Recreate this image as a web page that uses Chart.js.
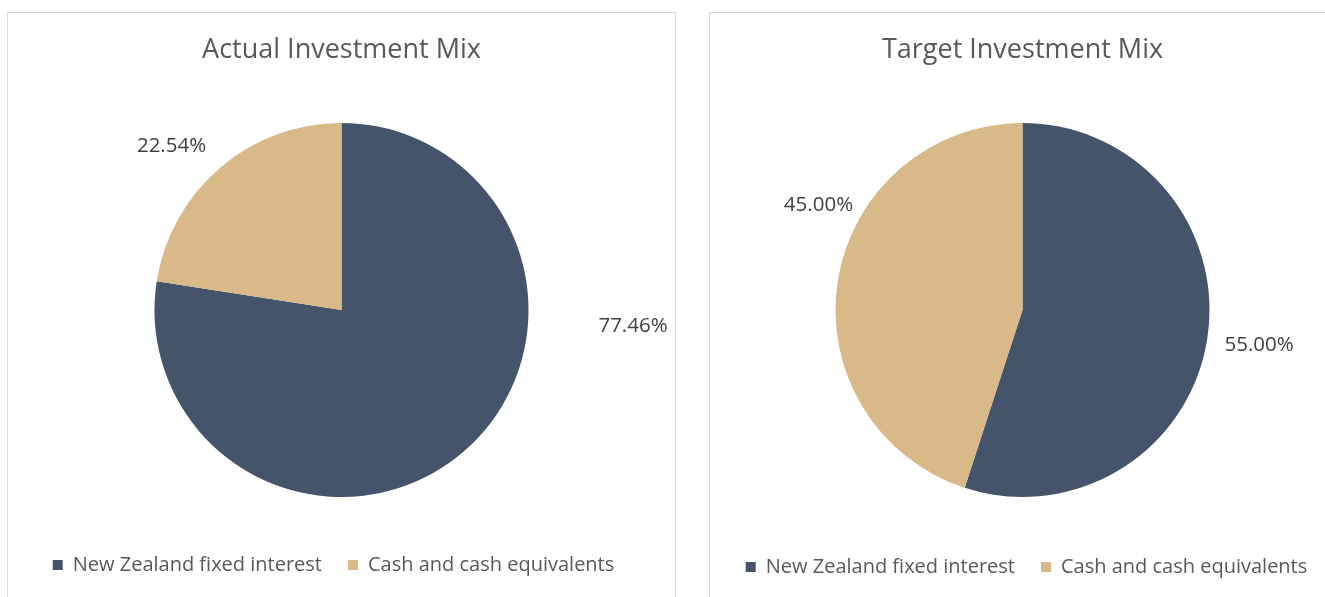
<!DOCTYPE html>
<html>
<head>
<meta charset="utf-8">
<script src="https://cdn.jsdelivr.net/npm/chart.js@4/dist/chart.umd.min.js"></script>
<style>
  body { margin: 0; background: #fff; width: 1325px; height: 597px; overflow: hidden; position: relative; }
  .panel { position: absolute; top: 12px; border: 1px solid #D9D9D9; background: #fff; }
  #panelActual { left: 7px; width: 667px; height: 600px; }
  #panelTarget { left: 709px; width: 640px; height: 600px; }
  canvas { display: block; }
</style>
</head>
<body>
<div class="panel" id="panelActual"><canvas id="chart_actual" width="667" height="584"></canvas></div>
<div class="panel" id="panelTarget"><canvas id="chart_target" width="625" height="584"></canvas></div>
<script>
const categories = ['New Zealand fixed interest', 'Cash and cash equivalents'];
const actualValues = [77.46, 22.54];
const targetValues = [55.00, 45.00];
const sliceColors = ['#44546A', '#D8B987'];

Chart.defaults.font.family = "'Open Sans', sans-serif";

// draws the percentage labels outside each slice, offset in units of the pie radius
const pieLabels = {
    id: 'pieLabels',
    afterLayout(chart, args, opts) {
        // nudge the legend sideways, like the original
        chart.legend.left += opts.legendShift;
        chart.legend.right += opts.legendShift;
    },
    afterDatasetsDraw(chart, args, opts) {
        const ctx = chart.ctx;
        const meta = chart.getDatasetMeta(0);
        const data = chart.data.datasets[0].data;
        ctx.save();
        ctx.font = "20.5px 'Open Sans', sans-serif";
        ctx.fillStyle = '#404040';
        ctx.textAlign = 'center';
        ctx.textBaseline = 'middle';
        meta.data.forEach((arc, i) => {
            const {x, y, outerRadius} = arc.getProps(['x', 'y', 'outerRadius'], true);
            const a = opts.anchors[i];
            ctx.fillText(data[i].toFixed(2) + '%', x + a[0] * outerRadius, y + a[1] * outerRadius);
        });
        ctx.restore();
    }
};

function makePie(id, title, values, anchors, legendShift, titleGap, padBottom) {
    return new Chart(document.getElementById(id), {
        type: 'pie',
        data: {
            labels: categories,
            datasets: [{
                data: values,
                backgroundColor: sliceColors,
                borderWidth: 0
            }]
        },
        options: {
            responsive: false,
            animation: false,
            devicePixelRatio: 1,
            radius: 187,
            layout: { padding: { left: 0, right: 0, top: 0, bottom: padBottom } },
            plugins: {
                title: {
                    display: true,
                    text: title,
                    color: '#595959',
                    font: { size: 27, weight: 'normal' },
                    padding: { top: 20.8, bottom: titleGap }
                },
                legend: {
                    position: 'bottom',
                    labels: {
                        boxWidth: 10,
                        boxHeight: 10,
                        padding: 26,
                        color: '#595959',
                        font: { size: 20 }
                    }
                },
                tooltip: { enabled: false },
                pieLabels: { anchors: anchors, legendShift: legendShift }
            }
        },
        plugins: [pieLabels]
    });
}

makePie('chart_actual', 'Actual Investment Mix', actualValues,
    [[1.559, 0.086], [-0.909, -0.877]], -8, 24.8, 12);
makePie('chart_target', 'Target Investment Mix', targetValues,
    [[1.265, 0.187], [-1.091, -0.561]], 4, 22.8, 10);
</script>
</body>
</html>
